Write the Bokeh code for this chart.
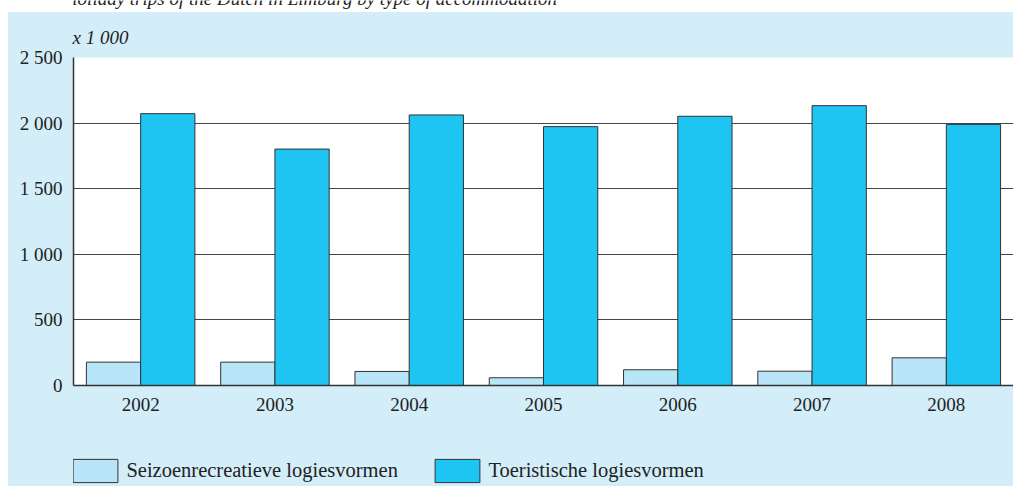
from bokeh.plotting import figure
from bokeh.models import (Range1d, FactorRange, FixedTicker, Label, Legend,
                          LegendItem, ColumnDataSource)
from bokeh.layouts import column
from bokeh.transform import dodge
from bokeh.embed import file_html
from bokeh.resources import INLINE

# ---- data ----
years = ["2002", "2003", "2004", "2005", "2006", "2007", "2008"]
seizoen = [178, 178, 107, 59, 120, 109, 211]
toeristisch = [2072, 1802, 2062, 1973, 2052, 2133, 1990]
y_ticks = [0, 500, 1000, 1500, 2000, 2500]
y_tick_labels = ["0", "500", "1 000", "1 500", "2 000", "2 500"]
series_names = ["Seizoenrecreatieve logiesvormen", "Toeristische logiesvormen"]
title_text = "Holiday trips of the Dutch in Limburg by type of accommodation"
unit_text = "x 1 000"

# ---- style ----
BG = "#d3eef9"
LIGHT = "#b9e5f8"
DARK = "#1ec4f2"
EDGE = "#333333"
TXT = "#222222"
FONT = "Liberation Serif"
FS = "19px"

src = ColumnDataSource(dict(year=years, s=seizoen, t=toeristisch))

# title strip (only its lower part is visible); frame is aligned to x 73..1013
t = figure(width=1005, height=12, x_range=Range1d(73, 1013), y_range=Range1d(0, 12),
           x_axis_location=None, y_axis_location=None, title_location=None,
           min_border=0, toolbar_location=None, output_backend="svg",
           styles={"background-color": "white"})
t.outline_line_color = None
t.grid.visible = False
t.border_fill_color = "white"
t.background_fill_color = "white"
t.add_layout(Label(x=310, y=14, text=title_text, text_align="center",
                   text_baseline="alphabetic", text_font=FONT, text_font_size=FS,
                   text_font_style="italic", text_color=TXT))

p = figure(width=1005, height=438, x_range=FactorRange(factors=years),
           y_range=Range1d(0, 2500), output_backend="svg", toolbar_location=None,
           min_border_left=65, min_border_right=0, min_border_top=45,
           min_border_bottom=65, title=unit_text)
p.background_fill_color = "white"
p.border_fill_color = BG
p.outline_line_color = None
p.title.align = "left"
p.title.offset = -1
p.title.standoff = 20
p.title.text_font = FONT
p.title.text_font_size = FS
p.title.text_font_style = "italic"
p.title.text_color = TXT

p.vbar(x=dodge("year", -0.202, range=p.x_range), top="s", width=0.404,
       source=src, fill_color=LIGHT, line_color=EDGE, line_width=1)
p.vbar(x=dodge("year", 0.202, range=p.x_range), top="t", width=0.404,
       source=src, fill_color=DARK, line_color=EDGE, line_width=1)

p.xgrid.visible = False
p.ygrid.ticker = FixedTicker(ticks=y_ticks)
p.ygrid.grid_line_color = "#444444"
p.ygrid.grid_line_width = 1

p.yaxis.ticker = FixedTicker(ticks=y_ticks)
p.yaxis.major_label_overrides = {v: s for v, s in zip(y_ticks, y_tick_labels)}
for ax in (p.xaxis[0], p.yaxis[0]):
    ax.axis_line_color = EDGE
    ax.axis_line_width = 1.5
    ax.major_tick_line_color = None
    ax.minor_tick_line_color = None
    ax.major_label_text_font = FONT
    ax.major_label_text_font_size = FS
    ax.major_label_text_color = TXT
p.yaxis.major_label_standoff = 5
p.xaxis.major_label_standoff = 6

# legend strip (frame aligned to x 73..1013)
L = figure(width=1005, height=36, x_range=Range1d(0, 1), y_range=Range1d(0, 1),
           x_axis_location=None, y_axis_location=None, title_location=None,
           min_border=0, toolbar_location=None, output_backend="svg",
           styles={"background-color": BG})
L.outline_line_color = None
L.grid.visible = False
L.border_fill_color = BG
L.background_fill_color = BG
# off-range proxies, only used for the legend swatches
d1 = L.vbar(x=[-5], top=[-5], width=0.1, fill_color=LIGHT, line_color=EDGE, line_width=1)
d2 = L.vbar(x=[-5], top=[-5], width=0.1, fill_color=DARK, line_color=EDGE, line_width=1)
for i, (r, loc) in enumerate([(d1, (-5.6, 1)), (d2, (356.4, 1))]):
    leg = Legend(items=[LegendItem(label=series_names[i], renderers=[r])],
                 location=loc, orientation="horizontal", glyph_width=56,
                 glyph_height=29, label_standoff=3, padding=0, margin=0,
                 border_line_color=None, background_fill_alpha=0,
                 label_text_font=FONT, label_text_font_size="20.5px",
                 label_text_color=TXT, label_height=29)
    L.add_layout(leg, "center")

layout = column(t, p, L, styles={"margin-top": "0px", "margin-left": "8px",
                                 "background-color": BG})

open("out.html", "w").write(file_html(layout, INLINE))
